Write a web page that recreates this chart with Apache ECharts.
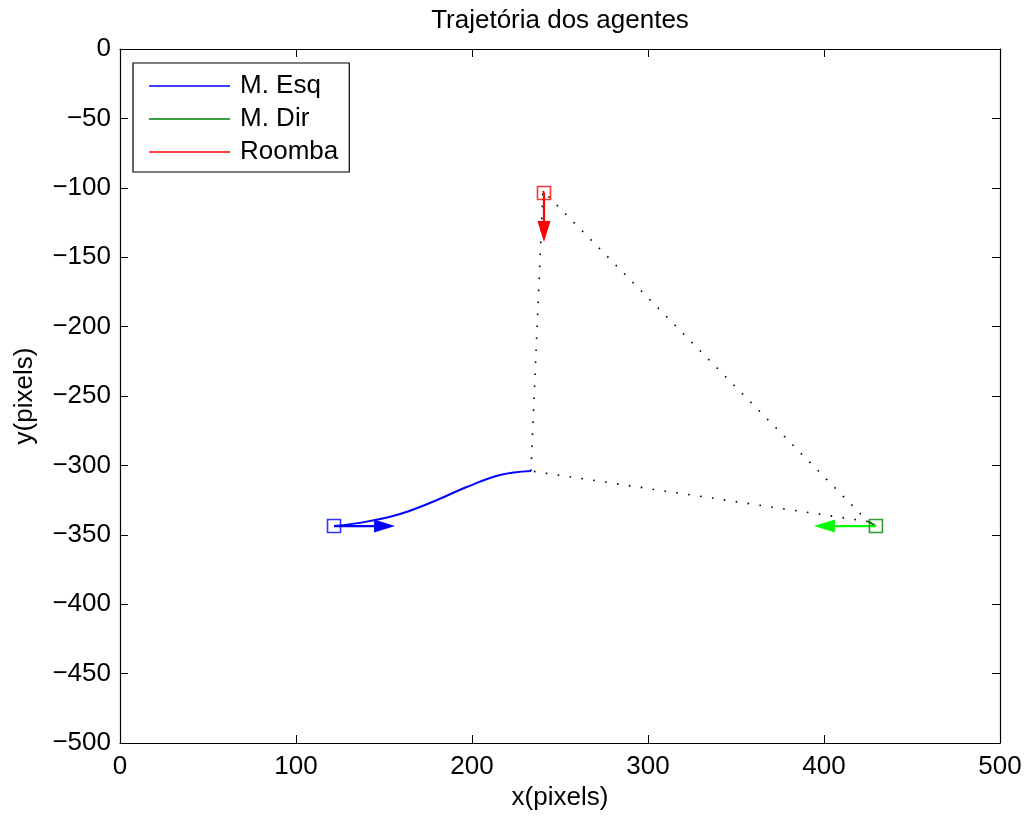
<!DOCTYPE html>
<html>
<head>
<meta charset="utf-8">
<script src="https://cdn.jsdelivr.net/npm/echarts@6/dist/echarts.min.js"></script>
<style>
  html, body { margin: 0; padding: 0; background: #fff; }
  #chart { width: 1026px; height: 818px; }
</style>
</head>
<body>
<div id="chart"></div>
<script>
// trajectories (x, y in pixels)
const esqPath = [[121.6, -343.7], [140.2, -340.5], [159.1, -335.0], [177.8, -326.2], [197.0, -315.6], [215.9, -306.9], [233.5, -304.0]]
const dirPath = [[429.5, -343.7], [425.0, -340.4]]
const roombaPath = [[240.9, -103.7], [240.3, -102.3]]

// start positions (squares)
const esqStart = [[121.6, -343.7]]
const dirStart = [[429.5, -343.7]]
const roombaStart = [[240.9, -103.7]]

// formation triangle (dotted)
const formation = [[233.5, -304.0], [240.3, -102.3], [425.0, -340.4], [233.5, -304.0]]

// heading arrows: x0, y0, x1, y1
const esqArrow = [[121.6, -343.7, 156.3, -343.7]]
const dirArrow = [[429.5, -343.7, 394.3, -343.7]]
const roombaArrow = [[240.9, -103.7, 240.9, -139.0]]

const FONT = 'Liberation Sans'
const FS = 26

const chart = echarts.init(document.getElementById('chart'))

const fmtY = (v) => (v < 0 ? '\u2212' + Math.abs(v) : String(v))

const arrowSeries = (data, color) => ({
  type: 'custom',
  silent: true,
  z: 5,
  data: data,
  renderItem: (params, api) => {
    const p0 = api.coord([api.value(0), api.value(1)])
    const p1 = api.coord([api.value(2), api.value(3)])
    const dx = p1[0] - p0[0]
    const dy = p1[1] - p0[1]
    const len = Math.sqrt(dx * dx + dy * dy) || 1
    const ux = dx / len
    const uy = dy / len
    const headLen = 21
    const headHalf = 6.5
    const bx = p1[0] - ux * headLen
    const by = p1[1] - uy * headLen
    return {
      type: 'group',
      children: [
        {
          type: 'line',
          shape: { x1: p0[0], y1: p0[1], x2: bx, y2: by },
          style: { stroke: color, lineWidth: 2.2 },
        },
        {
          type: 'polygon',
          shape: {
            points: [
              [p1[0], p1[1]],
              [bx - uy * headHalf, by + ux * headHalf],
              [bx + uy * headHalf, by - ux * headHalf],
            ],
          },
          style: { fill: color },
        },
      ],
    }
  },
})

const squareSeries = (data, color) => ({
  type: 'scatter',
  silent: true,
  z: 6,
  symbol: 'rect',
  symbolSize: 13,
  data: data,
  itemStyle: { color: 'transparent', borderColor: color, borderWidth: 1.6 },
})

const axisCommon = {
  type: 'value',
  axisLine: { show: true, onZero: false, lineStyle: { color: '#000', width: 1.2 } },
  axisTick: { show: true, inside: true, length: 8, lineStyle: { color: '#000', width: 1 } },
  splitLine: { show: false },
}

const option = {
  backgroundColor: '#fff',
  animation: false,
  title: {
    text: 'Trajetória dos agentes',
    left: 560,
    top: 8,
    padding: 0,
    textAlign: 'center',
    textStyle: { fontFamily: FONT, fontSize: FS, fontWeight: 'normal', color: '#000' },
  },
  grid: { left: 120, right: 26, top: 49, bottom: 75 },
  legend: {
    orient: 'vertical',
    left: 133,
    top: 63,
    padding: [10, 11, 7, 16],
    itemGap: 7,
    itemWidth: 81,
    itemHeight: 1.6,
    icon: 'rect',
    borderColor: '#000',
    borderWidth: 1.2,
    borderRadius: 0,
    backgroundColor: '#fff',
    selectedMode: false,
    textStyle: { fontFamily: FONT, fontSize: FS, color: '#000', lineHeight: 26, padding: [0, 0, 0, 5] },
    data: [
      { name: 'M. Esq', itemStyle: { color: '#0000ff' } },
      { name: 'M. Dir', itemStyle: { color: '#008000' } },
      { name: 'Roomba', itemStyle: { color: '#ff0000' } },
    ],
  },
  xAxis: [
    {
      ...axisCommon,
      position: 'bottom',
      min: 0,
      max: 500,
      interval: 100,
      name: 'x(pixels)',
      nameLocation: 'middle',
      nameGap: 42,
      nameTextStyle: { fontFamily: FONT, fontSize: FS, color: '#000' },
      axisLabel: { margin: 11, fontFamily: FONT, fontSize: FS, color: '#000' },
    },
    {
      ...axisCommon,
      position: 'top',
      min: 0,
      max: 500,
      interval: 100,
      axisLabel: { show: false },
    },
  ],
  yAxis: [
    {
      ...axisCommon,
      position: 'left',
      min: -500,
      max: 0,
      interval: 50,
      name: 'y(pixels)',
      nameLocation: 'middle',
      nameGap: 82,
      nameTextStyle: { fontFamily: FONT, fontSize: FS, color: '#000' },
      axisLabel: { margin: 9, fontFamily: FONT, fontSize: FS, color: '#000', formatter: fmtY },
    },
    {
      ...axisCommon,
      position: 'right',
      min: -500,
      max: 0,
      interval: 50,
      axisLabel: { show: false },
    },
  ],
  series: [
    {
      name: 'Formação',
      type: 'line',
      silent: true,
      z: 2,
      data: formation,
      symbol: 'none',
      lineStyle: { color: '#000', width: 1.6, type: [1.6, 10.4] },
    },
    {
      name: 'M. Esq',
      type: 'line',
      silent: true,
      z: 3,
      data: esqPath,
      smooth: 0.4,
      symbol: 'none',
      lineStyle: { color: '#0000ff', width: 2 },
      itemStyle: { color: '#0000ff' },
    },
    {
      name: 'M. Dir',
      type: 'line',
      silent: true,
      z: 3,
      data: dirPath,
      symbol: 'none',
      lineStyle: { color: '#008000', width: 2 },
      itemStyle: { color: '#008000' },
    },
    {
      name: 'Roomba',
      type: 'line',
      silent: true,
      z: 3,
      data: roombaPath,
      symbol: 'none',
      lineStyle: { color: '#ff0000', width: 2 },
      itemStyle: { color: '#ff0000' },
    },
    arrowSeries(esqArrow, '#0000ff'),
    arrowSeries(dirArrow, '#00ff00'),
    arrowSeries(roombaArrow, '#ff0000'),
    squareSeries(esqStart, '#0000ff'),
    squareSeries(dirStart, '#008000'),
    squareSeries(roombaStart, '#ff0000'),
  ],
}

chart.setOption(option)
window.addEventListener('resize', () => chart.resize())
</script>
</body>
</html>
